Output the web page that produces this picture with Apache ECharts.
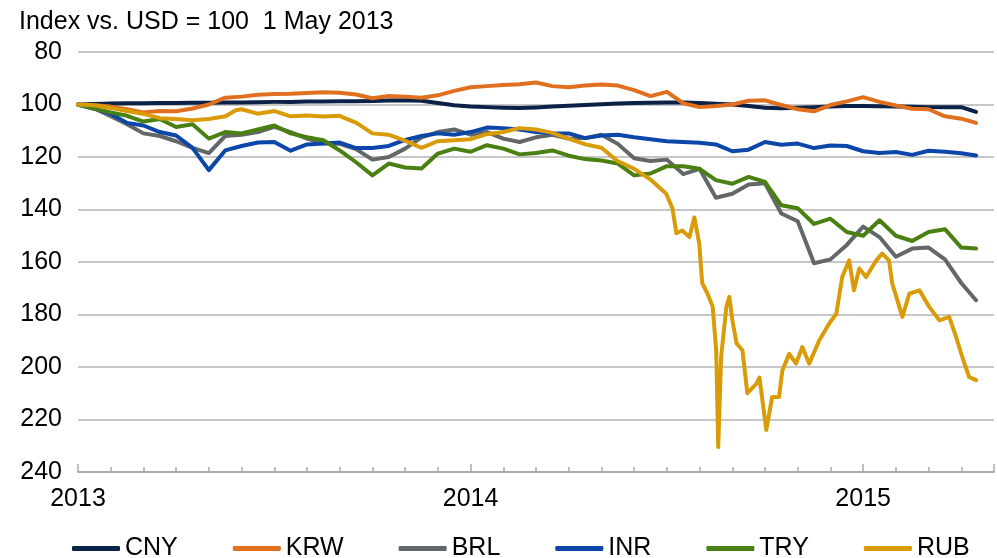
<!DOCTYPE html>
<html>
<head>
<meta charset="utf-8">
<script src="https://cdn.jsdelivr.net/npm/echarts@6/dist/echarts.min.js"></script>
<style>
  html, body { margin: 0; padding: 0; background: #fff; }
  #chart { width: 997px; height: 558px; }
</style>
</head>
<body>
<div id="chart"></div>
<script>
// months since Jan 2013 (x axis runs 0..28)
const months = [0, 0.5, 1, 1.5, 2, 2.5, 3, 3.5, 4, 4.5, 5, 5.5, 6, 6.5, 7, 7.5, 8, 8.5, 9, 9.5,
  10, 10.5, 11, 11.5, 12, 12.5, 13, 13.5, 14, 14.5, 15, 15.5, 16, 16.5, 17, 17.5, 18, 18.5, 19, 19.5,
  20, 20.5, 21, 21.5, 22, 22.5, 23, 23.5, 24, 24.5, 25, 25.5, 26, 26.5, 27, 27.45];

const cny = [100, 99.8, 99.6, 99.5, 99.5, 99.4, 99.4, 99.3, 99.3, 99.2, 99.2, 99.1, 99.0, 99.0, 98.9, 98.9, 98.8, 98.8, 98.7, 98.5,
  98.4, 98.6, 99.4, 100.3, 100.8, 101.0, 101.2, 101.3, 101.1, 100.8, 100.5, 100.2, 99.9, 99.6, 99.4, 99.3, 99.2, 99.2, 99.4, 99.7,
  100.0, 100.6, 101.2, 101.4, 101.2, 101.0, 100.8, 100.6, 100.6, 100.7, 100.8, 100.9, 101.0, 101.0, 101.0, 102.8];

const krw = [100, 100.3, 100.8, 101.8, 103.0, 102.5, 102.6, 101.5, 100.0, 97.4, 97.0, 96.3, 96.0, 95.9, 95.6, 95.3, 95.5, 96.2, 97.6, 96.8,
  97.0, 97.4, 96.5, 94.8, 93.4, 93.0, 92.6, 92.3, 91.6, 93.0, 93.4, 92.8, 92.4, 92.8, 94.5, 96.8, 95.2, 99.5, 101.0, 100.6,
  100.0, 98.6, 98.4, 100.2, 101.8, 102.6, 100.2, 98.8, 97.2, 99.0, 100.4, 101.6, 101.8, 104.5, 105.4, 107.0];

const brl = [100, 101.5, 104.5, 107.5, 111.0, 112.0, 114.0, 116.5, 118.5, 112.0, 111.5, 110.5, 108.5, 110.5, 113.0, 114.8, 115.0, 117.0, 121.0, 120.0,
  116.8, 112.5, 110.5, 109.5, 111.5, 110.5, 113.0, 114.3, 112.5, 111.5, 113.0, 112.8, 111.5, 115.0, 120.5, 121.5, 121.0, 126.5, 124.5, 135.5,
  134.0, 130.5, 130.0, 141.5, 144.5, 160.5, 159.0, 153.5, 146.5, 150.5, 158.0, 154.9, 154.5, 159.0, 168.0, 174.6];

const inr = [100, 101.6, 103.5, 107.0, 108.0, 110.5, 111.8, 116.5, 125.0, 117.5, 115.8, 114.5, 114.3, 117.6, 115.2, 114.9, 114.5, 116.6, 116.6, 115.8,
  113.5, 112.0, 111.0, 111.5, 110.5, 108.8, 109.0, 109.5, 110.5, 111.0, 111.0, 112.8, 111.8, 111.5, 112.5, 113.2, 114.0, 114.3, 114.6, 115.2,
  117.8, 117.2, 114.3, 115.3, 114.9, 116.6, 115.6, 115.8, 117.8, 118.5, 118.1, 119.2, 117.6, 118.0, 118.6, 119.4];

const tryv = [100, 101.6, 103.0, 104.3, 106.5, 105.5, 108.6, 107.5, 113.0, 110.5, 111.0, 109.5, 108.0, 111.0, 112.5, 113.6, 117.5, 122.0, 127.0, 122.5,
  124.0, 124.4, 118.7, 116.8, 118.0, 115.5, 116.8, 119.0, 118.5, 117.5, 119.5, 120.8, 121.3, 122.5, 127.0, 126.3, 123.5, 123.5, 124.5, 128.8,
  130.2, 127.6, 129.5, 138.4, 139.5, 145.5, 143.5, 148.6, 150.0, 144.1, 150.0, 152.0, 148.6, 147.5, 154.5, 154.9];

// RUB has its own, denser months to catch the late-2014 spikes
const rubMonths = [0, 0.51, 1.0, 1.49, 1.98, 2.5, 2.99, 3.5, 4.0, 4.51, 4.82, 5.0, 5.49, 6.01, 6.5, 6.99, 7.51, 7.99, 8.51, 9.0,
  9.49, 10.0, 10.5, 10.99, 11.51, 12.0, 12.49, 13.0, 13.49, 14.0, 14.5, 14.99, 15.51, 16.0, 16.49, 17.0, 17.49, 17.98, 18.17, 18.29,
  18.47, 18.69, 18.84, 18.99, 19.08, 19.24, 19.4, 19.51, 19.57, 19.66, 19.82, 19.91, 20.0, 20.13, 20.31, 20.46, 20.74, 20.83, 21.04, 21.22,
  21.43, 21.53, 21.74, 21.95, 22.14, 22.35, 22.66, 22.96, 23.18, 23.36, 23.57, 23.72, 23.88, 24.09, 24.4, 24.58, 24.79, 24.89, 25.2, 25.41,
  25.72, 26.02, 26.33, 26.63, 26.84, 27.03, 27.24, 27.45];
const rub = [100, 100.3, 101.3, 102.5, 103.5, 105.2, 105.5, 106.0, 105.5, 104.5, 102.2, 101.8, 103.5, 102.5, 104.5, 104.2, 104.6, 104.3, 107.0, 111.0,
  111.5, 113.8, 116.5, 114.0, 113.6, 113.2, 111.3, 110.5, 109.0, 109.5, 110.8, 113.0, 115.2, 116.5, 121.5, 124.5, 128.5, 134.0, 139.5, 149.0,
  148.0, 150.5, 143.0, 153.0, 168.0, 172.0, 177.0, 194.0, 230.5, 196.0, 177.0, 173.3, 182.0, 191.0, 193.6, 210.0, 206.3, 204.0, 224.0, 211.4,
  211.4, 201.3, 195.0, 198.7, 192.4, 198.7, 189.8, 183.5, 179.7, 165.7, 159.4, 170.8, 162.5, 165.7, 159.4, 156.8, 159.4, 168.2, 180.9, 172.1,
  170.8, 177.1, 182.2, 180.9, 188.5, 196.2, 203.8, 205.0];

const names = ['CNY', 'KRW', 'BRL', 'INR', 'TRY', 'RUB'];
const colors = ['#0b2147', '#e0701f', '#63676a', '#0b46a8', '#4a8011', '#d99c08'];
const yearTicks = [0, 12, 24];
const yearLabels = ['2013', '2014', '2015'];

function pairs(xs, vs) {
  return vs.map((v, i) => [xs[i], v]);
}

const chart = echarts.init(document.getElementById('chart'));
const font = "'Liberation Sans', Arial, sans-serif";

const seriesData = [
  pairs(months, cny),
  pairs(months, krw),
  pairs(months, brl),
  pairs(months, inr),
  pairs(months, tryv),
  pairs(rubMonths, rub)
];

chart.setOption({
  animation: false,
  color: colors,
  textStyle: { fontFamily: font },
  title: {
    text: 'Index vs. USD = 100  1 May 2013',
    left: 14,
    top: 5,
    textStyle: { fontSize: 25, fontWeight: 'normal', color: '#000', fontFamily: font }
  },
  legend: {
    data: names,
    left: 67,
    top: 531,
    itemGap: 55,
    itemWidth: 48,
    itemHeight: 5,
    icon: 'roundRect',
    textStyle: { fontSize: 25, color: '#000', fontFamily: font }
  },
  grid: { left: 78, right: 1, top: 52, bottom: 86 },
  xAxis: [
    {
      type: 'value',
      min: 0,
      max: 28,
      interval: 1,
      axisLine: { onZero: false, lineStyle: { color: '#a9abad', width: 2 } },
      axisTick: { inside: true, length: 5, lineStyle: { color: '#a9abad', width: 1.5 } },
      axisLabel: {
        margin: 15,
        fontSize: 25,
        color: '#000',
        fontFamily: font,
        formatter: function (value) {
          let k = yearTicks.indexOf(value);
          return k >= 0 ? yearLabels[k] : '';
        }
      },
      splitLine: { show: false }
    },
    {
      // longer ticks at the year marks
      type: 'value',
      min: 0,
      max: 28,
      interval: 12,
      position: 'bottom',
      axisLine: { show: false, onZero: false },
      axisTick: { inside: true, length: 8, lineStyle: { color: '#a9abad', width: 1.5 } },
      axisLabel: { show: false },
      splitLine: { show: false }
    }
  ],
  yAxis: {
    type: 'value',
    inverse: true,
    min: 80,
    max: 240,
    interval: 20,
    axisLine: { show: false },
    axisTick: { show: false },
    axisLabel: { margin: 16, fontSize: 25, color: '#000', fontFamily: font },
    splitLine: { lineStyle: { color: '#b5b5b5', width: 1.5 } }
  },
  series: names.map((n, i) => ({
    name: n,
    type: 'line',
    data: seriesData[i],
    showSymbol: false,
    symbol: 'none',
    lineStyle: { width: 4, color: colors[i], join: 'round', cap: 'round' },
    itemStyle: { color: colors[i] }
  }))
});
</script>
</body>
</html>
